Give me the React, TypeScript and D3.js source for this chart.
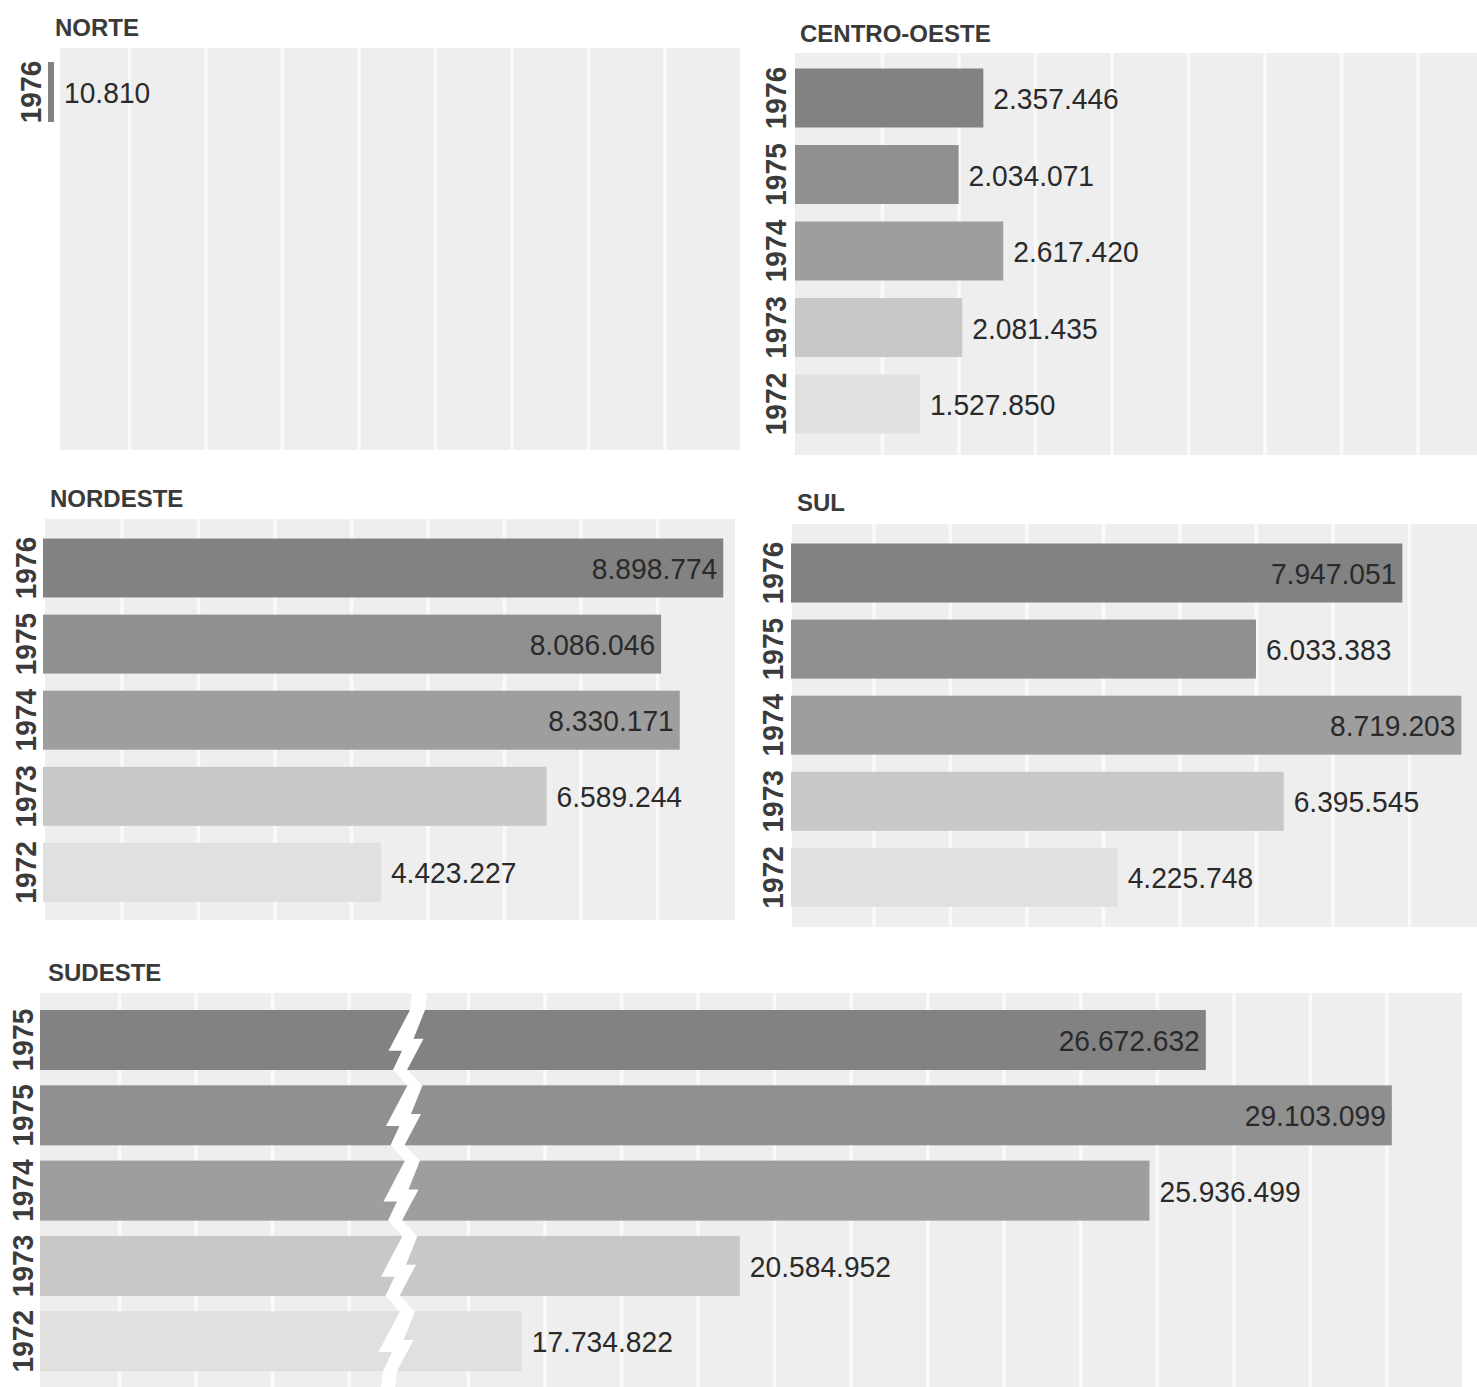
import React from "react";
import * as d3 from "d3";

// ---------------- DATA ----------------
const NORTE_YEARS = ["1976"];
const NORTE_VALUES = [10810];

const CENTRO_OESTE_YEARS = ["1976", "1975", "1974", "1973", "1972"];
const CENTRO_OESTE_VALUES = [2357446, 2034071, 2617420, 2081435, 1527850];

const NORDESTE_YEARS = ["1976", "1975", "1974", "1973", "1972"];
const NORDESTE_VALUES = [8898774, 8086046, 8330171, 6589244, 4423227];

const SUL_YEARS = ["1976", "1975", "1974", "1973", "1972"];
const SUL_VALUES = [7947051, 6033383, 8719203, 6395545, 4225748];

const SUDESTE_YEARS = ["1975", "1975", "1974", "1973", "1972"];
const SUDESTE_VALUES = [26672632, 29103099, 25936499, 20584952, 17734822];

// value labels that sit inside their bar
const NORTE_INSIDE = [false];
const CENTRO_OESTE_INSIDE = [false, false, false, false, false];
const NORDESTE_INSIDE = [true, true, true, false, false];
const SUL_INSIDE = [true, false, true, false, false];
const SUDESTE_INSIDE = [true, true, false, false, false];

// grid: one column per million; axis break on SUDESTE
const GRID_STEP = 1000000;
const SUDESTE_BREAK = [4770000, 16210000];
const SUDESTE_MAX = 30000000;

// ---------------- STYLE / LAYOUT ----------------
const W = 1477;
const H = 1387;
const PX_PER_UNIT = 76.5 / GRID_STEP;
const ROW_COLORS = ["#828282", "#909090", "#9e9e9e", "#c8c8c8", "#e0e0e0"];
const STRIPE = "#eeeeee";
const GAP = "#fafafa";
const FONT = "'Liberation Sans', Arial, Helvetica, sans-serif";
const fmt = d3
  .formatLocale({ decimal: ",", thousands: ".", grouping: [3], currency: ["", ""] })
  .format(",d");

type Panel = {
  title: string;
  titleX: number;
  titleY: number;
  years: string[];
  values: number[];
  inside: boolean[];
  bg: [number, number, number, number];
  barX: number;
  yearX: number;
  firstCenter: number;
  step: number;
  barH: number;
  scale: d3.ScaleLinear<number, number>;
  broken?: boolean;
};

function linScale(zeroX: number, right: number) {
  return d3
    .scaleLinear()
    .domain([0, (right - zeroX) / PX_PER_UNIT])
    .range([zeroX, right]);
}

const sudesteLeft = 40;
const sudesteBreakX = 405;
const sudesteK = 76.54 / GRID_STEP;
const sudesteScale = d3
  .scaleLinear()
  .domain([0, SUDESTE_BREAK[0], SUDESTE_BREAK[1], SUDESTE_MAX])
  .range([
    sudesteLeft,
    sudesteBreakX,
    sudesteBreakX,
    sudesteBreakX + (SUDESTE_MAX - SUDESTE_BREAK[1]) * sudesteK,
  ]);

const PANELS: Panel[] = [
  {
    title: "NORTE", titleX: 55, titleY: 36,
    years: NORTE_YEARS, values: NORTE_VALUES, inside: NORTE_INSIDE,
    bg: [60, 48, 740, 450], barX: 48, yearX: 31,
    firstCenter: 92, step: 76.5, barH: 60,
    scale: linScale(50, 740),
  },
  {
    title: "CENTRO-OESTE", titleX: 800, titleY: 42,
    years: CENTRO_OESTE_YEARS, values: CENTRO_OESTE_VALUES, inside: CENTRO_OESTE_INSIDE,
    bg: [795, 53, 1477, 455], barX: 795, yearX: 776,
    firstCenter: 98, step: 76.5, barH: 59,
    scale: linScale(803, 1477),
  },
  {
    title: "NORDESTE", titleX: 50, titleY: 507,
    years: NORDESTE_YEARS, values: NORDESTE_VALUES, inside: NORDESTE_INSIDE,
    bg: [45, 519, 735, 920], barX: 43, yearX: 26,
    firstCenter: 568, step: 76.1, barH: 59,
    scale: linScale(42.5, 735),
  },
  {
    title: "SUL", titleX: 797, titleY: 511,
    years: SUL_YEARS, values: SUL_VALUES, inside: SUL_INSIDE,
    bg: [792, 524, 1477, 927], barX: 791, yearX: 773,
    firstCenter: 573, step: 76.1, barH: 59,
    scale: linScale(794.4, 1477),
  },
  {
    title: "SUDESTE", titleX: 48, titleY: 981,
    years: SUDESTE_YEARS, values: SUDESTE_VALUES, inside: SUDESTE_INSIDE,
    bg: [40, 993, 1462, 1387], barX: 40, yearX: 23,
    firstCenter: 1040, step: 75.3, barH: 60,
    scale: sudesteScale, broken: true,
  },
];

function inBreak(v: number, p: Panel) {
  return p.broken && v >= SUDESTE_BREAK[0] && v <= SUDESTE_BREAK[1];
}

function PanelView({ p }: { p: Panel }) {
  const [x1, y1, x2, y2] = p.bg;
  const yPos = d3
    .scalePoint<number>()
    .domain(p.years.map((_, i) => i))
    .range([p.firstCenter, p.firstCenter + p.step * (p.years.length - 1)]);
  const maxV = p.scale.domain()[p.scale.domain().length - 1];
  const ticks = d3
    .range(GRID_STEP, maxV + 1, GRID_STEP)
    .filter((v) => !inBreak(v, p))
    .map((v) => p.scale(v) + 3)
    .filter((x) => x > x1 + 3 && x < x2 - 3);

  // lightning-bolt break on the broken axis
  const bolts: string[] = [];
  if (p.broken) {
    const bxs = p.values.map((_, i) => sudesteBreakX + 5 - 2.5 * i);
    const rows = p.values.map((_, i) => {
      const c = yPos(i) as number;
      return { yT: c - p.barH / 2, yB: c + p.barH / 2, bx: bxs[i] };
    });
    rows.forEach(({ yT, yB, bx }, i) => {
      const h = yB - yT;
      const pts = [
        [bx, yT], [bx + 15, yT], [bx + 3.5, yT + 0.48 * h], [bx + 13.5, yT + 0.48 * h],
        [bx - 3, yB], [bx - 17, yB], [bx - 8, yT + 0.68 * h], [bx - 21.5, yT + 0.68 * h],
      ];
      bolts.push("M" + pts.map((q) => q.join(",")).join("L") + "Z");
      if (i === 0) {
        bolts.push(`M${bx + 2},${y1}L${bx + 17},${y1}L${bx + 15},${yT + 0.5}L${bx},${yT + 0.5}Z`);
      }
      if (i < rows.length - 1) {
        const n = rows[i + 1];
        bolts.push(`M${bx - 17},${yB - 0.5}L${bx - 3},${yB - 0.5}L${n.bx + 15},${n.yT + 0.5}L${n.bx},${n.yT + 0.5}Z`);
      } else {
        bolts.push(`M${bx - 17},${yB - 0.5}L${bx - 3},${yB - 0.5}L${bx - 5},${y2}L${bx - 19},${y2}Z`);
      }
    });
  }

  return (
    <g>
      <rect x={x1} y={y1} width={x2 - x1} height={y2 - y1} fill={STRIPE} />
      {ticks.map((x, i) => (
        <rect key={i} x={x - 1.75} y={y1} width={3.5} height={y2 - y1} fill={GAP} />
      ))}
      <text
        x={p.titleX}
        y={p.titleY}
        fontFamily={FONT}
        fontWeight="bold"
        fontSize={24}
        fill="#3a3a3a"
      >
        {p.title}
      </text>
      {p.values.map((v, i) => {
        const c = yPos(i) as number;
        const end = Math.max(p.scale(v), p.barX + 6);
        return (
          <g key={i}>
            <rect
              x={p.barX}
              y={c - p.barH / 2}
              width={end - p.barX}
              height={p.barH}
              fill={ROW_COLORS[i]}
            />
            <text
              transform={`translate(${p.yearX},${c}) rotate(-90) scale(0.97,1)`}
              textAnchor="middle"
              y={10}
              fontFamily={FONT}
              fontWeight="bold"
              fontSize={29}
              fill="#3b3b3b"
            >
              {p.years[i]}
            </text>
          </g>
        );
      })}
      {bolts.map((d, i) => (
        <path key={i} d={d} fill="#ffffff" />
      ))}
      {p.values.map((v, i) => {
        const c = yPos(i) as number;
        const end = Math.max(p.scale(v), p.barX + 6);
        const inside = p.inside[i];
        const tx = inside ? end - 6 : end + 10;
        return (
          <text
            key={i}
            transform={`translate(${tx},${c + 11}) scale(0.94,1)`}
            textAnchor={inside ? "end" : "start"}
            fontFamily={FONT}
            fontSize={30}
            fill="#2a2a2a"
          >
            {fmt(v)}
          </text>
        );
      })}
    </g>
  );
}

export default function App() {
  return (
    <svg
      width={W}
      height={H}
      viewBox={`0 0 ${W} ${H}`}
      style={{ position: "absolute", left: 0, top: 0, display: "block", background: "#ffffff" }}
    >
      <rect x={0} y={0} width={W} height={H} fill="#ffffff" />
      {PANELS.map((p) => (
        <PanelView key={p.title} p={p} />
      ))}
    </svg>
  );
}
